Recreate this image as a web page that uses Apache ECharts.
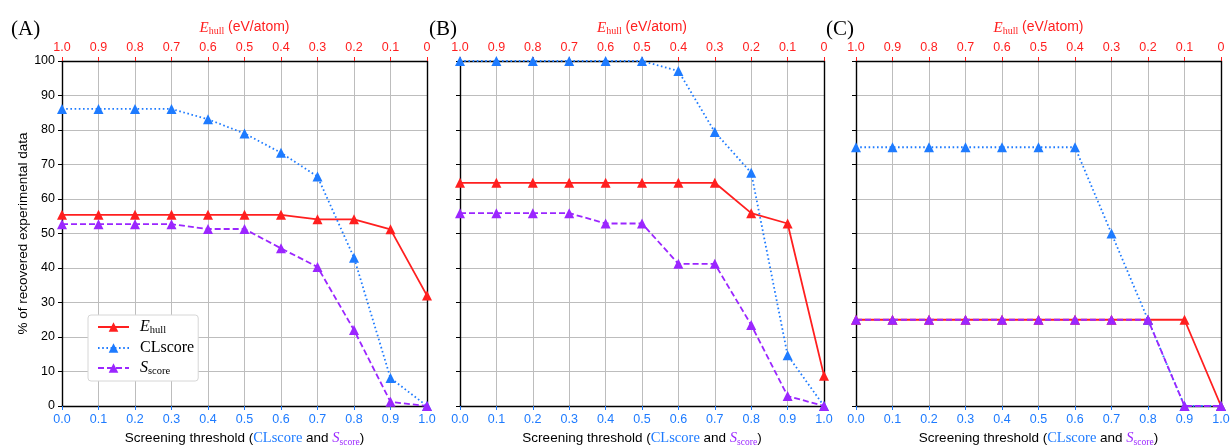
<!DOCTYPE html>
<html>
<head>
<meta charset="utf-8">
<script src="https://cdn.jsdelivr.net/npm/echarts@6/dist/echarts.min.js"></script>
<style>html,body{margin:0;padding:0;background:#fff;overflow:hidden}#c{width:1231px;height:446px}</style>
</head>
<body>
<div id="c"></div>
<script>
// ---- data ----
const thresholds = ['0.0','0.1','0.2','0.3','0.4','0.5','0.6','0.7','0.8','0.9','1.0'];
const ehullTicks = ['1.0','0.9','0.8','0.7','0.6','0.5','0.4','0.3','0.2','0.1','0'];
const panelLabels = ['(A)','(B)','(C)'];
const seriesNames = ['Ehull','CLscore','Sscore'];

const A_ehull = [55.4,55.4,55.4,55.4,55.4,55.4,55.4,54.1,54.1,51.2,32.0];
const A_cl    = [86.1,86.1,86.1,86.1,83.1,79.0,73.4,66.5,43.0,8.1,0];
const A_s     = [52.7,52.7,52.7,52.7,51.3,51.3,45.7,40.3,22.0,1.2,0];

const B_ehull = [64.7,64.7,64.7,64.7,64.7,64.7,64.7,64.7,55.9,52.9,8.8];
const B_cl    = [100,100,100,100,100,100,97.1,79.4,67.6,14.7,0];
const B_s     = [55.9,55.9,55.9,55.9,52.9,52.9,41.2,41.2,23.5,2.9,0];

const C_ehull = [25,25,25,25,25,25,25,25,25,25,0];
const C_cl    = [75,75,75,75,75,75,75,50,25,0,0];
const C_s     = [25,25,25,25,25,25,25,25,25,0,0];

const panels = [[A_ehull,A_cl,A_s],[B_ehull,B_cl,B_s],[C_ehull,C_cl,C_s]];

// ---- styling ----
const RED = '#ff1f1f', BLUE = '#1e7bff', PURPLE = '#9b26ff';
const SANS = 'Liberation Sans', SERIF = 'Liberation Serif';
const gridBoxes = [{left:62,right:804},{left:460,right:407},{left:856,right:10}];

const grids = [], xAxes = [], yAxes = [], series = [], titles = [];
const panelLabelX = [6, 424, 821];

gridBoxes.forEach((g, i) => {
  grids.push({left:g.left, right:g.right, top:61, bottom:40, show:false,
    containLabel:false, outerBoundsMode:'none'});
  xAxes.push({
    type:'category', gridIndex:i, position:'bottom', data:thresholds, boundaryGap:false,
    axisLine:{show:true, onZero:false, lineStyle:{color:'#000', width:1.4}},
    axisTick:{show:true, alignWithLabel:true, length:4, inside:false, lineStyle:{color:BLUE, width:1}},
    axisLabel:{color:BLUE, fontFamily:SANS, fontSize:12.5, margin:7},
    splitLine:{show:true, lineStyle:{color:'#bdbdbd', width:1}},
    name:'Screening threshold ({cl|CLscore} and {s|S}{sub|score})',
    nameLocation:'middle', nameGap:24,
    nameTextStyle:{color:'#000', fontFamily:SANS, fontSize:13.5,
      rich:{
        cl:{color:BLUE, fontFamily:SERIF, fontSize:14.5},
        s:{color:PURPLE, fontFamily:SERIF, fontStyle:'italic', fontSize:14.5},
        sub:{color:PURPLE, fontFamily:SERIF, fontSize:9.5, padding:[7,0,0,0]}
      }}
  });
  xAxes.push({
    type:'category', gridIndex:i, position:'top', data:ehullTicks, boundaryGap:false,
    axisLine:{show:true, onZero:false, lineStyle:{color:'#000', width:1.4}},
    axisTick:{show:true, alignWithLabel:true, length:4, inside:false, lineStyle:{color:RED, width:1}},
    axisLabel:{color:RED, fontFamily:SANS, fontSize:12.5, margin:7},
    splitLine:{show:false},
    name:'{e|E}{sub|hull} (eV/atom)',
    nameLocation:'middle', nameGap:22,
    nameTextStyle:{color:RED, fontFamily:SANS, fontSize:14,
      rich:{
        e:{color:RED, fontFamily:SERIF, fontStyle:'italic', fontSize:15},
        sub:{color:RED, fontFamily:SERIF, fontSize:10, padding:[7,0,0,0]}
      }}
  });
  yAxes.push({
    type:'value', gridIndex:i, min:0, max:100, interval:10, position:'left',
    axisLine:{show:true, onZero:false, lineStyle:{color:'#000', width:1.4}},
    axisTick:{show:true, length:4, lineStyle:{color:'#000', width:1}},
    axisLabel:{show:i===0, color:'#000', fontFamily:SANS, fontSize:12.5, margin:7},
    splitLine:{show:true, lineStyle:{color:'#bdbdbd', width:1}},
    name: i===0 ? '% of recovered experimental data' : '',
    nameLocation:'middle', nameGap:32,
    nameTextStyle:{color:'#000', fontFamily:SANS, fontSize:13.5}
  });
  yAxes.push({
    type:'value', gridIndex:i, min:0, max:100, interval:10, position:'right',
    axisLine:{show:true, onZero:false, lineStyle:{color:'#000', width:1.4}},
    axisTick:{show:false}, axisLabel:{show:false}, splitLine:{show:false}
  });
  const data = panels[i];
  const styles = [
    {color:RED, type:'solid', width:1.8},
    {color:BLUE, type:[1.6,2.6], width:1.8},
    {color:PURPLE, type:[6,3], width:1.8}
  ];
  for (let k = 0; k < 3; k++) {
    series.push({
      name:seriesNames[k], type:'line', xAxisIndex:i*2, yAxisIndex:i*2,
      data:data[k], symbol:'triangle', symbolSize:10, showSymbol:true,
      itemStyle:{color:styles[k].color},
      lineStyle:{color:styles[k].color, type:styles[k].type, width:styles[k].width},
      animation:false, clip:true, z:2+k
    });
  }
  titles.push({text:panelLabels[i], left:panelLabelX[i], top:14,
    textStyle:{fontFamily:SERIF, fontSize:21, fontWeight:'normal', color:'#000'}});
});

const legendRich = {
  e:{fontFamily:SERIF, fontStyle:'italic', fontSize:16, color:'#000'},
  sub:{fontFamily:SERIF, fontSize:10.5, color:'#000', padding:[7,0,0,0]},
  t:{fontFamily:SERIF, fontSize:16, color:'#000'}
};
const legendFmt = {Ehull:'{e|E}{sub|hull}', CLscore:'{t|CLscore}', Sscore:'{e|S}{sub|score}'};

const chart = echarts.init(document.getElementById('c'), null, {renderer:'canvas', width:1231, height:446});
chart.setOption({
  animation:false,
  backgroundColor:'#fff',
  title:titles,
  grid:grids,
  xAxis:xAxes,
  yAxis:yAxes,
  legend:{
    data:seriesNames, orient:'vertical', left:88, top:315,
    backgroundColor:'#fff', borderColor:'#d6d6d6', borderWidth:1, borderRadius:3,
    padding:[4,4,4,9], itemGap:4, itemWidth:31, itemHeight:12,
    formatter:n => legendFmt[n],
    textStyle:{rich:legendRich, padding:[0,0,0,6]}
  },
  series:series
});
</script>
</body>
</html>
